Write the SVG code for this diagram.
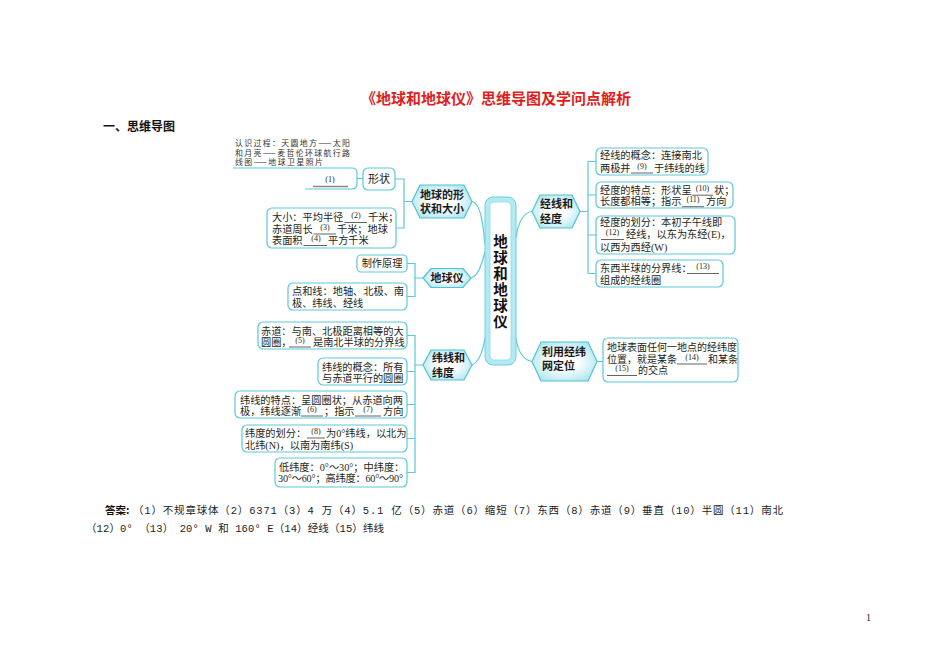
<svg xmlns="http://www.w3.org/2000/svg" width="950" height="672" viewBox="0 0 950 672">
<defs>
<radialGradient id="hg" cx="50%" cy="50%" r="60%">
<stop offset="0.35" stop-color="#ffffff"/>
<stop offset="1" stop-color="#a9e5ee"/>
</radialGradient>
<style>
.bx{fill:#fff;stroke:#5cc8d9;stroke-width:1.2}
.hx{fill:url(#hg);stroke:#4fc3d6;stroke-width:1.2}
.cn{fill:none;stroke:#5cc8d9;stroke-width:1.2}
.lf{font-family:"Liberation Serif","Noto Sans CJK SC",serif;font-size:10.2px;fill:#231f20}
.lb{font-family:"Liberation Serif","Noto Sans CJK SC",serif;font-size:8px;fill:#231f20;text-anchor:middle}
.ul{stroke:#231f20;stroke-width:0.7}
.hd{font-family:"Noto Sans CJK SC",sans-serif;font-size:11px;font-weight:bold;fill:#1a1a1a}
.nt{font-family:"Noto Sans CJK SC",sans-serif;font-size:7.9px;fill:#333}
.an{font-family:"Liberation Mono","Noto Sans CJK SC",monospace;font-size:10.5px;fill:#222}
</style>
</defs>
<rect width="950" height="672" fill="#fff"/>

<text x="496" y="104" text-anchor="middle" style="font-family:'Noto Sans CJK SC',sans-serif;font-size:15px;font-weight:bold;fill:#e21d1d">《地球和地球仪》思维导图及学问点解析</text>
<text x="103" y="131" style="font-family:'Noto Sans CJK SC',sans-serif;font-size:12px;font-weight:bold;fill:#111">一、思维导图</text>

<g id="connectors" class="cn">
<path d="M472,201.5 C481,203 483,225 485,244"/>
<path d="M471,278 C479,276 482,262 485,252"/>
<path d="M472,365 C480,362 483,350 485,338"/>
<path d="M516,238 C518,222 524,212 532,211.5"/>
<path d="M516,338 C518,352 524,360 532,361.5"/>
<path d="M357,178.5 H363"/>
<path d="M395,179 H404 V228 H396 M404,201.5 H412"/>
<path d="M407,263.5 H415 V296.5 H407 M415,278 H423"/>
<path d="M407,335.5 H415 V472.5 H407 M407,371.5 H415 M407,404.5 H415 M407,438.5 H415 M415,365 H423"/>
<path d="M580,211.5 H588 M588,161.5 V273.5 M588,161.5 H596 M588,195 H596 M588,235 H596 M588,273.5 H596"/>
<path d="M597,361.5 H603"/>
</g>

<g id="n-center">
<rect x="485" y="197" width="31" height="168" rx="8" fill="#b3e9f0" stroke="#6fd0de" stroke-width="1"/>
<rect x="490" y="202" width="21" height="158" rx="4" fill="#fff" stroke="#8fdbe6" stroke-width="0.8"/>
<text x="500.5" y="234" style="writing-mode:vertical-rl;letter-spacing:1.5px;font-family:'Noto Sans CJK SC',sans-serif;font-size:14.5px;font-weight:bold;fill:#111">地球和地球仪</text>
</g>

<g id="n-shape-size">
<polygon class="hx" points="412,201.5 420,185 464,185 472,201.5 464,218 420,218"/>
<text class="hd" x="442" y="198.5" text-anchor="middle">地球的形</text>
<text class="hd" x="442" y="213" text-anchor="middle">状和大小</text>
</g>
<g id="n-globe">
<polygon class="hx" points="423,278 431,268.5 463,268.5 471,278 463,287.5 431,287.5"/>
<text class="hd" x="447" y="282" text-anchor="middle">地球仪</text>
</g>
<g id="n-lat">
<polygon class="hx" points="423,365 431,350 464,350 472,365 464,380 431,380"/>
<text class="hd" x="432" y="362">纬线和</text>
<text class="hd" x="432" y="376.5">纬度</text>
</g>
<g id="n-lon">
<polygon class="hx" points="532,211.5 540,195 572,195 580,211.5 572,228 540,228"/>
<text class="hd" x="540" y="208">经线和</text>
<text class="hd" x="540" y="222.5">经度</text>
</g>
<g id="n-locate">
<polygon class="hx" points="532,361.5 541,342 588,342 597,361.5 588,381 541,381"/>
<text class="hd" x="542" y="355.5">利用经纬</text>
<text class="hd" x="542" y="370">网定位</text>
</g>

<g id="n-note">
<text class="nt" x="235" y="146" textLength="115" lengthAdjust="spacing">认识过程：天圆地方——太阳</text>
<text class="nt" x="235" y="155.5" textLength="115" lengthAdjust="spacing">和月亮——麦哲伦环球航行路</text>
<text class="nt" x="235" y="165" textLength="88" lengthAdjust="spacing">线图——地球卫星照片</text>
<path class="bx" style="fill:none" d="M233,168 H352 Q357,168 357,173 V184 Q357,189 352,189 H305"/>
<text class="lb" x="330" y="182">(1)</text>
<line x1="313" y1="186.5" x2="348" y2="186.5" stroke="#8a8a8a" stroke-width="1.3"/>
</g>

<g id="n-shape">
<rect class="bx" x="363" y="168" width="32" height="22" rx="5"/>
<text class="lf" x="379" y="183" text-anchor="middle" style="font-size:11px">形状</text>
</g>

<g id="n-size">
<rect class="bx" x="267" y="208" width="129" height="40" rx="5"/>
<text class="lf" x="272" y="221">大小：平均半径</text>
<line class="ul" x1="344.5" y1="222.5" x2="367" y2="222.5"/>
<text class="lb" x="356" y="218">(2)</text>
<text class="lf" x="368" y="221">千米；</text>
<text class="lf" x="272" y="232.5">赤道周长</text>
<line class="ul" x1="313.5" y1="234" x2="336" y2="234"/>
<text class="lb" x="325" y="229.5">(3)</text>
<text class="lf" x="337" y="232.5">千米；地球</text>
<text class="lf" x="272" y="244">表面积</text>
<line class="ul" x1="303.5" y1="245.5" x2="327" y2="245.5"/>
<text class="lb" x="316" y="241">(4)</text>
<text class="lf" x="328" y="244">平方千米</text>
</g>

<g id="n-make">
<rect class="bx" x="357" y="255" width="50" height="17" rx="4"/>
<text class="lf" x="382" y="267" text-anchor="middle">制作原理</text>
</g>
<g id="n-points">
<rect class="bx" x="288" y="283" width="119" height="27" rx="5"/>
<text class="lf" x="292" y="295">点和线：地轴、北极、南</text>
<text class="lf" x="292" y="306.5">极、纬线、经线</text>
</g>

<g id="n-equator">
<rect class="bx" x="258" y="322" width="149" height="27" rx="5"/>
<text class="lf" x="261" y="334.5">赤道：与南、北极距离相等的大</text>
<text class="lf" x="261" y="345.5">圆圈，</text>
<line class="ul" x1="289" y1="347" x2="311" y2="347"/>
<text class="lb" x="300" y="342.5">(5)</text>
<text class="lf" x="313" y="345.5">是南北半球的分界线</text>
</g>
<g id="n-latconcept">
<rect class="bx" x="318" y="358" width="89" height="27" rx="5"/>
<text class="lf" x="322" y="370.5">纬线的概念：所有</text>
<text class="lf" x="322" y="381.5">与赤道平行的圆圈</text>
</g>
<g id="n-latfeature">
<rect class="bx" x="235" y="391" width="172" height="27" rx="5"/>
<text class="lf" x="240" y="403.5">纬线的特点：呈圆圈状；从赤道向两</text>
<text class="lf" x="240" y="414.5">极，纬线逐渐</text>
<line class="ul" x1="301" y1="416" x2="323" y2="416"/>
<text class="lb" x="312" y="411.5">(6)</text>
<text class="lf" x="324" y="414.5">；指示</text>
<line class="ul" x1="355" y1="416" x2="381" y2="416"/>
<text class="lb" x="368" y="411.5">(7)</text>
<text class="lf" x="383" y="414.5">方向</text>
</g>
<g id="n-latdiv">
<rect class="bx" x="242" y="425" width="165" height="27" rx="5"/>
<text class="lf" x="245" y="436.5">纬度的划分：</text>
<line class="ul" x1="307" y1="438" x2="325" y2="438"/>
<text class="lb" x="316" y="433.5">(8)</text>
<text class="lf" x="326" y="436.5">为0°纬线，以北为</text>
<text class="lf" x="245" y="448.5">北纬(N)，以南为南纬(S)</text>
</g>
<g id="n-latzones">
<rect class="bx" x="275" y="458" width="132" height="29" rx="5"/>
<text class="lf" x="279" y="470.5">低纬度：0°～30°；中纬度：</text>
<text class="lf" x="278" y="481.5" textLength="125" lengthAdjust="spacing">30°～60°；高纬度：60°～90°</text>
</g>

<g id="n-lonconcept">
<rect class="bx" x="596" y="148" width="112" height="27" rx="5"/>
<text class="lf" x="600" y="158.7">经线的概念：连接南北</text>
<text class="lf" x="600" y="171.5">两极并</text>
<line class="ul" x1="631" y1="173" x2="653" y2="173"/>
<text class="lb" x="642" y="168.5">(9)</text>
<text class="lf" x="654" y="171.5">于纬线的线</text>
</g>
<g id="n-lonfeature">
<rect class="bx" x="596" y="182" width="137" height="26" rx="5"/>
<text class="lf" x="600" y="193.7">经度的特点：形状呈</text>
<line class="ul" x1="692" y1="195.2" x2="713" y2="195.2"/>
<text class="lb" x="702.5" y="190.7">(10)</text>
<text class="lf" x="714" y="193.7">状；</text>
<text class="lf" x="600" y="205.2">长度都相等；指示</text>
<line class="ul" x1="682" y1="206.7" x2="704" y2="206.7"/>
<text class="lb" x="693" y="202.2">(11)</text>
<text class="lf" x="706" y="205.2">方向</text>
</g>
<g id="n-londiv">
<rect class="bx" x="596" y="216" width="139" height="38" rx="5"/>
<text class="lf" x="600" y="225.5">经度的划分：本初子午线即</text>
<line class="ul" x1="601" y1="239.5" x2="624" y2="239.5"/>
<text class="lb" x="612.5" y="235">(12)</text>
<text class="lf" x="626" y="238">经线，以东为东经(E)，</text>
<text class="lf" x="600" y="250.5">以西为西经(W)</text>
</g>
<g id="n-hemi">
<rect class="bx" x="596" y="260" width="127" height="27" rx="5"/>
<text class="lf" x="600" y="272">东西半球的分界线：</text>
<line class="ul" x1="687" y1="273.5" x2="719" y2="273.5"/>
<text class="lb" x="703" y="269">(13)</text>
<text class="lf" x="600" y="283.5">组成的经线圈</text>
</g>
<g id="n-position">
<rect class="bx" x="603" y="338" width="135" height="44" rx="5"/>
<text class="lf" x="607" y="351" style="font-size:10px">地球表面任何一地点的经纬度</text>
<text class="lf" x="607" y="362.5" style="font-size:10px">位置，就是某条</text>
<line class="ul" x1="677" y1="364" x2="707" y2="364"/>
<text class="lb" x="692" y="359.5">(14)</text>
<text class="lf" x="708" y="362.5" style="font-size:10px">和某条</text>
<line class="ul" x1="607" y1="375.5" x2="637" y2="375.5"/>
<text class="lb" x="622" y="371">(15)</text>
<text class="lf" x="638" y="374" style="font-size:10px">的交点</text>
</g>

<text x="105" y="514" style="font-family:'Noto Sans CJK SC',sans-serif;font-size:10.5px;font-weight:bold;fill:#111">答案:</text>
<text class="an" x="133" y="514" textLength="650" lengthAdjust="spacing">（1）不规章球体（2）6371（3）4 万（4）5.1 亿（5）赤道（6）缩短（7）东西（8）赤道（9）垂直（10）半圆（11）南北</text>
<text class="an" x="86" y="532" textLength="298" lengthAdjust="spacing">（12）0° （13） 20° W 和 160° E（14）经线（15）纬线</text>
<text x="866" y="621" style="font-family:'Liberation Serif',serif;font-size:10px;fill:#222">1</text>
</svg>
